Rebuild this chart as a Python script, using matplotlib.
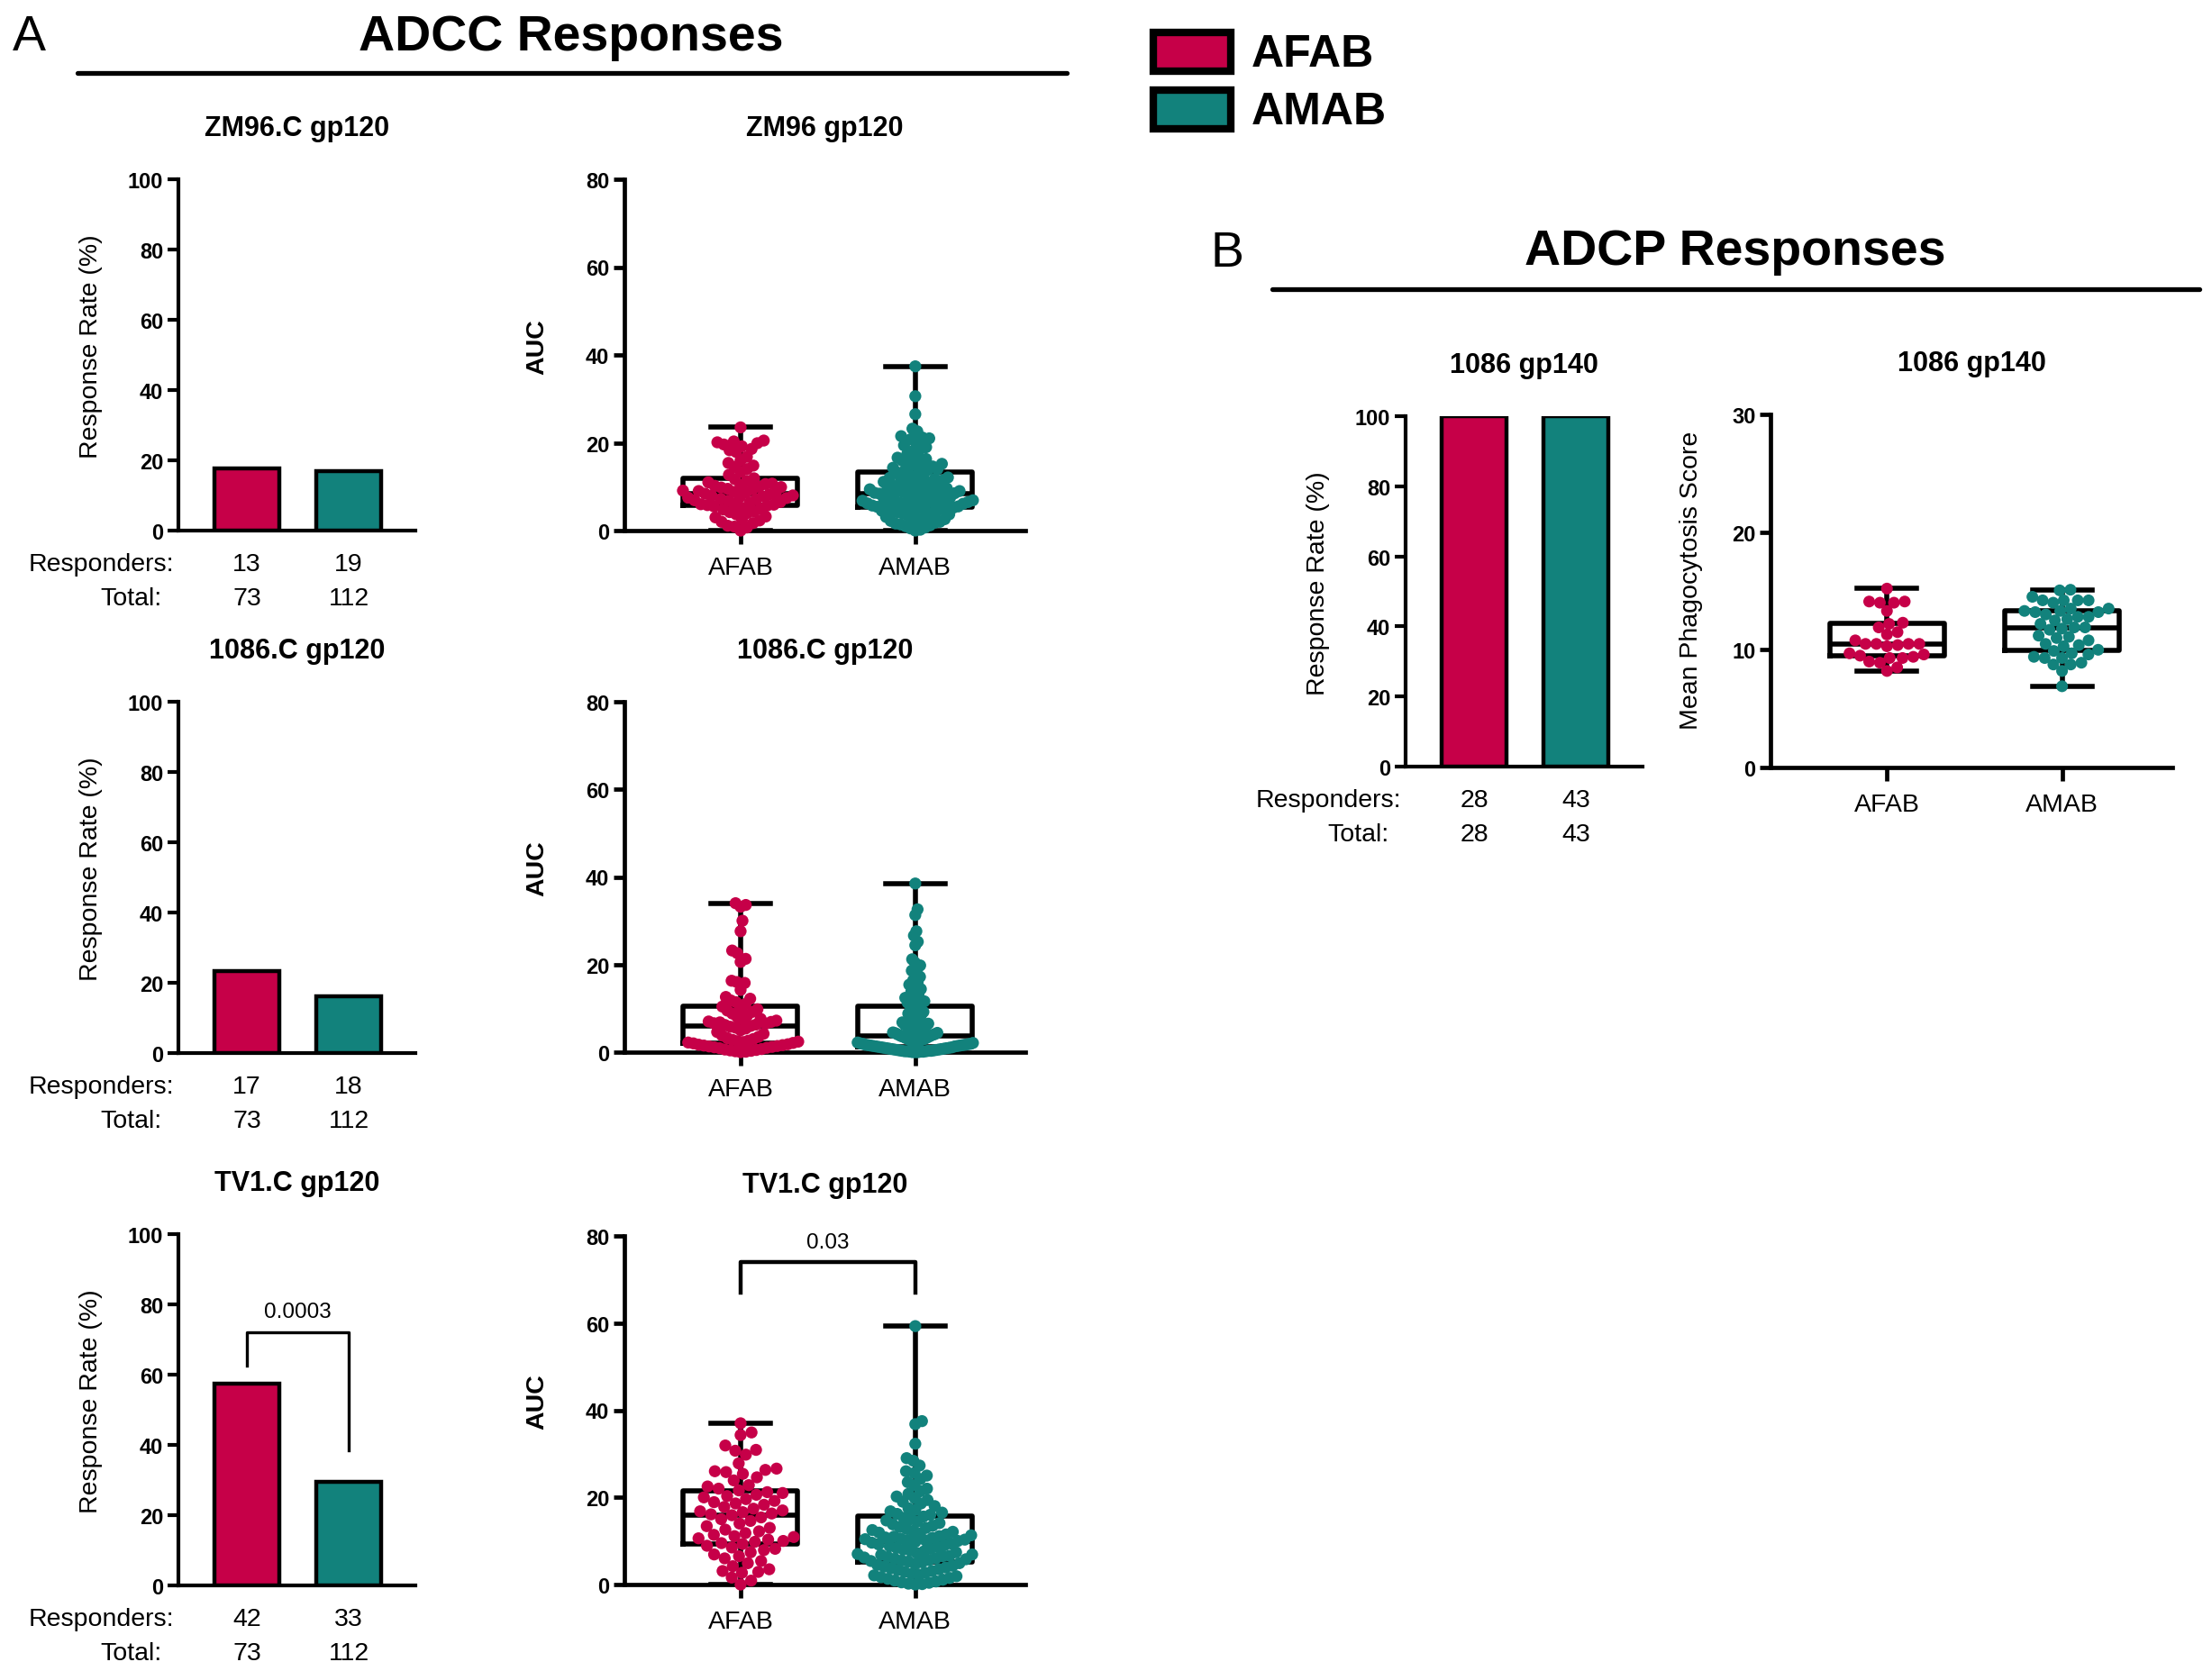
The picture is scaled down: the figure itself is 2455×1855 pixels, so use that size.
import matplotlib
matplotlib.use("Agg")
import matplotlib.pyplot as plt
from matplotlib.lines import Line2D
from matplotlib.patches import Rectangle
import numpy as np

plt.rcParams['font.family'] = ['Liberation Sans', 'DejaVu Sans']

# ==========================================================
# Data
# ==========================================================

groups = ["AFAB", "AMAB"]
colors = ["#C60048", "#12827C"]

bar_titles = ["ZM96.C gp120", "1086.C gp120", "TV1.C gp120"]
box_titles = ["ZM96 gp120", "1086.C gp120", "TV1.C gp120"]

responders = [[13, 19], [17, 18], [42, 33]]
totals = [[73, 112], [73, 112], [73, 112]]

adcp_responders = [28, 43]
adcp_totals = [28, 43]

# AUC values
zm96_afab = [23.5, 20.5, 20.3, 20.1, 19.9, 19.6, 19.2, 18.6, 18.3, 17.9, 16.8, 16.0,
             15.4, 14.8, 14.5, 14.0, 13.4, 12.7, 11.9, 11.7, 11.3, 11.0, 10.7, 10.6,
             10.3, 10.2, 10.0, 9.9, 9.8, 9.5, 9.4, 9.1, 9.0, 8.8, 8.7, 8.4, 8.4, 8.2,
             8.0, 7.9, 7.8, 7.7, 7.5, 7.4, 7.2, 7.1, 6.9, 6.8, 6.5, 6.4, 6.2, 6.0, 5.9,
             5.8, 5.7, 5.5, 5.2, 5.0, 4.8, 4.4, 4.2, 4.0, 3.7, 3.2, 3.0, 2.5, 2.3, 2.0,
             1.7, 1.1, 0.9, 0.7, 0.0]
zm96_amab = [37.4, 30.6, 26.5, 23.2, 22.6, 21.5, 21.2, 21.0, 20.8, 20.2, 19.4, 19.0,
             18.7, 18.1, 17.5, 17.1, 16.6, 16.3, 15.9, 15.4, 15.2, 15.0, 14.8, 14.6,
             14.3, 14.0, 13.8, 13.5, 13.2, 13.0, 12.8, 12.5, 12.3, 12.1, 12.0, 11.8,
             11.5, 11.3, 11.1, 10.9, 10.8, 10.5, 10.3, 10.2, 10.0, 9.9, 9.7, 9.6, 9.4,
             9.3, 9.1, 9.0, 8.9, 8.8, 8.6, 8.5, 8.4, 8.3, 8.1, 8.0, 7.9, 7.7, 7.6, 7.5,
             7.3, 7.2, 7.0, 6.9, 6.8, 6.7, 6.5, 6.4, 6.3, 6.2, 6.1, 6.0, 5.9, 5.8, 5.7,
             5.6, 5.5, 5.5, 5.4, 5.3, 5.2, 5.0, 4.9, 4.7, 4.5, 4.4, 4.2, 4.0, 3.9, 3.7,
             3.5, 3.3, 3.1, 3.0, 2.8, 2.6, 2.4, 2.2, 2.0, 1.8, 1.6, 1.4, 1.2, 1.0, 0.7,
             0.5, 0.2, 0.0]
c1086_afab = [34.0, 33.6, 33.2, 30.0, 27.6, 23.2, 22.6, 21.3, 20.6, 16.3, 16.0, 15.8,
              14.2, 12.6, 12.2, 11.8, 11.4, 11.0, 10.4, 10.1, 9.8, 9.5, 9.2, 8.8, 8.4,
              8.0, 7.6, 7.4, 7.2, 7.0, 6.9, 6.8, 6.6, 6.5, 6.3, 6.2, 6.0, 5.8, 5.6, 5.4,
              5.0, 4.6, 4.2, 3.8, 3.5, 3.2, 3.0, 2.8, 2.6, 2.5, 2.4, 2.3, 2.2, 2.1, 2.0,
              1.8, 1.7, 1.6, 1.5, 1.4, 1.3, 1.2, 1.1, 1.0, 0.9, 0.7, 0.6, 0.5, 0.4, 0.3,
              0.2, 0.1, 0.0]
c1086_amab = [38.5, 32.6, 31.3, 27.6, 26.6, 25.2, 24.4, 21.2, 20.5, 19.8, 19.2, 18.6,
              18.0, 17.2, 16.4, 16.0, 15.4, 14.9, 14.4, 13.8, 13.3, 12.8, 12.4, 12.0,
              11.6, 11.3, 11.0, 10.7, 10.4, 10.0, 9.6, 9.2, 8.8, 8.4, 8.0, 7.7, 7.4,
              7.1, 6.8, 6.5, 6.2, 6.0, 5.8, 5.6, 5.4, 5.2, 5.0, 4.8, 4.6, 4.5, 4.4, 4.3,
              4.1, 4.0, 3.9, 3.7, 3.6, 3.5, 3.3, 3.2, 3.0, 2.9, 2.8, 2.6, 2.5, 2.4, 2.3,
              2.2, 2.1, 2.0, 1.9, 1.9, 1.8, 1.7, 1.7, 1.6, 1.6, 1.5, 1.5, 1.4, 1.4, 1.3,
              1.3, 1.2, 1.1, 1.1, 1.0, 1.0, 0.9, 0.9, 0.8, 0.8, 0.7, 0.7, 0.6, 0.6, 0.5,
              0.5, 0.4, 0.4, 0.3, 0.3, 0.3, 0.2, 0.2, 0.2, 0.1, 0.1, 0.1, 0.0, 0.0, 0.0]
tv1_afab = [37.0, 34.9, 34.3, 31.9, 30.9, 30.7, 29.8, 27.8, 26.6, 26.3, 26.0, 25.8,
            25.4, 24.6, 23.9, 22.8, 22.5, 22.0, 21.6, 21.2, 21.0, 20.6, 20.3, 20.0,
            19.6, 19.2, 18.9, 18.6, 18.3, 17.8, 17.4, 17.0, 16.8, 16.6, 16.3, 16.1,
            15.9, 15.4, 15.0, 14.6, 14.0, 13.4, 13.0, 12.6, 12.2, 11.8, 11.4, 11.1,
            10.9, 10.6, 10.3, 10.0, 9.8, 9.5, 9.3, 8.9, 8.5, 8.2, 7.9, 7.4, 6.9, 6.5,
            6.0, 5.4, 4.9, 4.2, 3.5, 3.1, 2.9, 2.7, 1.6, 0.9, 0.0]
tv1_amab = [59.3, 37.5, 36.8, 32.3, 29.0, 28.4, 27.3, 26.0, 25.6, 25.0, 24.2, 23.5,
            22.8, 22.0, 21.4, 20.8, 20.2, 19.8, 19.4, 19.0, 18.6, 18.0, 17.5, 17.1,
            16.8, 16.5, 16.2, 16.0, 15.6, 15.3, 15.0, 14.7, 14.4, 14.1, 13.8, 13.5,
            13.2, 13.0, 12.8, 12.5, 12.3, 12.1, 11.9, 11.7, 11.5, 11.3, 11.1, 11.0,
            10.8, 10.7, 10.5, 10.4, 10.3, 10.2, 10.1, 10.0, 9.8, 9.6, 9.4, 9.2, 9.0,
            8.8, 8.6, 8.4, 8.2, 8.0, 7.8, 7.6, 7.4, 7.2, 7.0, 6.9, 6.8, 6.6, 6.5, 6.3,
            6.2, 6.0, 5.9, 5.8, 5.6, 5.5, 5.4, 5.3, 5.1, 4.9, 4.7, 4.5, 4.3, 4.1, 3.9,
            3.7, 3.5, 3.3, 3.1, 2.9, 2.7, 2.5, 2.3, 2.1, 1.9, 1.7, 1.5, 1.3, 1.1, 0.9,
            0.7, 0.5, 0.4, 0.2, 0.1, 0.0]

adcc_auc = [[zm96_afab, zm96_amab], [c1086_afab, c1086_amab], [tv1_afab, tv1_amab]]

# ADCP mean phagocytosis scores
adcp_afab = [15.2, 14.1, 14.0, 14.1, 14.0, 13.3, 12.3, 12.2, 11.9, 11.3, 11.5, 10.8,
             10.3, 10.5, 10.5, 10.4, 10.5, 10.5, 9.7, 9.3, 9.3, 9.0, 9.4, 8.9, 9.5,
             9.6, 8.2, 8.5]
adcp_amab = [15.1, 15.05, 14.5, 14.2, 14.0, 14.2, 14.2, 14.2, 13.3, 13.3, 13.5, 13.2,
             13.0, 13.2, 13.5, 12.2, 12.8, 12.5, 12.8, 12.6, 11.7, 11.9, 11.9, 11.8,
             11.1, 11.2, 11.0, 10.8, 10.5, 10.3, 10.4, 9.9, 10.0, 9.6, 9.3, 9.7, 9.3,
             9.4, 8.75, 8.9, 8.75, 8.2, 6.9]

# ==========================================================
# Layout helpers (pixel positions on a 2455 x 1856 canvas)
# ==========================================================

W, H = 2455, 1856
fig = plt.figure(figsize=(W / 100, H / 100), dpi=100)


def add_ax(left, right, top, bottom):
    return fig.add_axes([left / W, 1 - bottom / H, (right - left) / W, (bottom - top) / H])


def style_axes(ax, lw):
    for s in ["top", "right"]:
        ax.spines[s].set_visible(False)
    for s in ["left", "bottom"]:
        ax.spines[s].set_linewidth(lw)
    ax.tick_params(axis="y", width=lw, length=9, pad=3, labelsize=17)
    for lab in ax.get_yticklabels():
        lab.set_fontweight("bold")


def swarm(values, ppu, diam, maxw):
    ys = np.asarray(values, float) * ppu
    xs = np.zeros(len(ys))
    placed = []
    for i in np.argsort(ys):
        cands = [0.0]
        for j in placed:
            dy = ys[i] - ys[j]
            if abs(dy) < diam:
                dx = np.sqrt(diam ** 2 - dy ** 2)
                cands += [xs[j] + dx, xs[j] - dx]
        for c in sorted(cands, key=abs):
            if all((c - xs[j]) ** 2 + (ys[i] - ys[j]) ** 2 >= diam ** 2 - 1e-6 for j in placed):
                xs[i] = c
                break
        placed.append(i)
    m = np.abs(xs).max()
    if m > maxw:
        xs *= maxw / m
    return xs


def bar_panel(ax, title, resp, tot, bracket=None):
    rates = [100 * r / t for r, t in zip(resp, tot)]
    ax.bar([0, 1], rates, width=0.645, color=colors, edgecolor="black", linewidth=3.2, zorder=3)
    ax.set_xlim(-0.673, 1.655)
    ax.set_ylim(0, 100)
    ax.set_yticks([0, 20, 40, 60, 80, 100])
    ax.set_xticks([])
    style_axes(ax, 3.0)
    ax.text(-0.37, 0.526, "Response Rate (%)", transform=ax.transAxes, rotation=90,
            ha="center", va="center", fontsize=20.5)
    ax.annotate(title, xy=(0.5, 1), xycoords="axes fraction", xytext=(0, 49),
                textcoords="offset pixels", ha="center", va="baseline",
                fontsize=22, fontweight="bold")
    ax.annotate("Responders:", xy=(0, 0), xycoords="axes fraction", xytext=(-5, -44),
                textcoords="offset pixels", ha="right", va="baseline", fontsize=20.5)
    ax.annotate("Total:", xy=(0, 0), xycoords="axes fraction", xytext=(-18, -82),
                textcoords="offset pixels", ha="right", va="baseline", fontsize=20.5)
    for i in range(2):
        ax.annotate(str(resp[i]), xy=(i, 0), xycoords=("data", "axes fraction"),
                    xytext=(0, -44), textcoords="offset pixels", ha="center",
                    va="baseline", fontsize=20.5)
        ax.annotate(str(tot[i]), xy=(i, 0), xycoords=("data", "axes fraction"),
                    xytext=(0, -82), textcoords="offset pixels", ha="center",
                    va="baseline", fontsize=20.5)
    if bracket:
        ax.plot([0, 0, 1, 1], [rates[0] + 5, 72, 72, rates[1] + 9], color="black",
                lw=2.4, clip_on=False)
        ax.text(0.5, 78, bracket, ha="center", va="center", fontsize=17.5)


def box_panel(ax, title, data, ymax, yticks, ylabel, label_bold, ppu, diam, size,
              bracket=None):
    ax.boxplot(data, positions=[0, 1], widths=0.655, whis=(0, 100), showfliers=False,
               capwidths=0.34,
               boxprops=dict(linewidth=4, color="black"),
               whiskerprops=dict(linewidth=4, color="black"),
               capprops=dict(linewidth=4, color="black"),
               medianprops=dict(linewidth=4, color="black"))
    for i in range(2):
        xs = swarm(data[i], ppu, diam, 64) / 194.0
        ax.scatter(i + xs, data[i], s=size, color=colors[i], edgecolors="none",
                   zorder=4, clip_on=False)
    ax.set_xlim(-0.665, 1.63)
    ax.set_ylim(0, ymax)
    ax.set_yticks(yticks)
    ax.set_xticks([0, 1])
    ax.set_xticklabels(groups, fontsize=20.5)
    style_axes(ax, 3.4)
    ax.tick_params(axis="x", width=3.4, length=11, pad=9)
    ax.text(-97 / 445, 0.526, ylabel, transform=ax.transAxes, rotation=90,
            ha="center", va="center", fontsize=20.5,
            fontweight="bold" if label_bold else "normal")
    ax.annotate(title, xy=(0.5, 1), xycoords="axes fraction", xytext=(0, 49),
                textcoords="offset pixels", ha="center", va="baseline",
                fontsize=22, fontweight="bold")
    if bracket:
        ax.plot([0, 0, 1, 1], [67, 74, 74, 67], color="black", lw=3.2, clip_on=False)
        ax.text(0.5, 78.5, bracket, ha="center", va="center", fontsize=17.5)


# ==========================================================
# Panel A - ADCC
# ==========================================================

bar_rows = [(200, 590), (780, 1170), (1371, 1761)]
box_rows = [(200, 590), (780, 1169), (1373, 1760)]
bar_brackets = [None, None, "0.0003"]
box_brackets = [None, None, "0.03"]

for r in range(3):
    ax = add_ax(198, 461, bar_rows[r][0], bar_rows[r][1])
    bar_panel(ax, bar_titles[r], responders[r], totals[r], bar_brackets[r])

    ax = add_ax(693, 1138, box_rows[r][0], box_rows[r][1])
    ppu = (box_rows[r][1] - box_rows[r][0]) / 80.0
    box_panel(ax, box_titles[r], adcc_auc[r], 80, [0, 20, 40, 60, 80], "AUC", True,
              ppu, 12.5, 92, box_brackets[r])

# ==========================================================
# Panel B - ADCP
# ==========================================================

ax = add_ax(1560, 1823, 463, 852)
bar_panel(ax, "1086 gp140", adcp_responders, adcp_totals)

ax = add_ax(1965, 2411, 461, 853)
box_panel(ax, "1086 gp140", [adcp_afab, adcp_amab], 30, [0, 10, 20, 30],
          "Mean Phagocytosis Score", False, 392 / 30.0, 12, 88)
ax.texts[0].set_position((-88 / 446, 0.533))

# ==========================================================
# Headers and legend
# ==========================================================

fig.text(14 / W, 1 - 56 / H, "A", fontsize=40, ha="left", va="baseline")
fig.text(634 / W, 1 - 56 / H, "ADCC Responses", fontsize=40, fontweight="bold",
         ha="center", va="baseline")
fig.add_artist(Line2D([86 / W, 1184 / W], [1 - 82 / H, 1 - 82 / H], lw=3.8,
                      color="black", solid_capstyle="round"))

fig.text(1344 / W, 1 - 296 / H, "B", fontsize=40, ha="left", va="baseline")
fig.text(1926 / W, 1 - 294 / H, "ADCP Responses", fontsize=40, fontweight="bold",
         ha="center", va="baseline")
fig.add_artist(Line2D([1412 / W, 2441 / W], [1 - 322 / H, 1 - 322 / H], lw=3.8,
                      color="black", solid_capstyle="round"))

leg_tops = [33, 97]
for i in range(2):
    top = leg_tops[i] + 4
    fig.add_artist(Rectangle((1280 / W, 1 - (top + 43) / H), 86 / W, 43 / H,
                             facecolor=colors[i], edgecolor="black", linewidth=6,
                             transform=fig.transFigure))
    fig.text(1389 / W, 1 - (top + 37) / H, groups[i], fontsize=36, fontweight="bold",
             ha="left", va="baseline")

fig.savefig("out.png", dpi=100, facecolor="white")
